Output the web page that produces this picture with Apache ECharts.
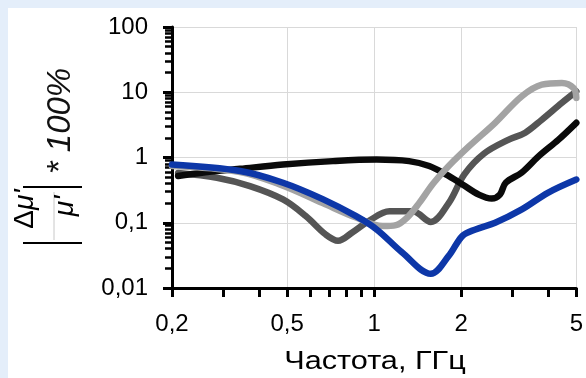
<!DOCTYPE html>
<html>
<head>
<meta charset="utf-8">
<script src="https://cdn.jsdelivr.net/npm/echarts@6/dist/echarts.min.js"></script>
<style>
  html, body { margin: 0; padding: 0; background: #e4eefa; }
  #panel { position: absolute; left: 8px; top: 8px; width: 578px; height: 370px; background: #ffffff; }
  #chart { position: absolute; left: 0; top: 0; width: 586px; height: 378px; }
</style>
</head>
<body>
<div id="panel"></div>
<div id="chart"></div>
<script>
// Frequency (GHz) and relative error (%) for each curve
const freqDark  = [0.21, 0.286, 0.372, 0.484, 0.58, 0.68, 0.75, 0.84, 0.96, 1.13, 1.36, 1.57, 1.81, 2.05, 2.4, 2.92, 3.33, 3.8, 4.46, 5.0];
const valDark   = [0.58, 0.49, 0.365, 0.228, 0.127, 0.066, 0.053, 0.071, 0.107, 0.15, 0.15, 0.103, 0.2, 0.55, 1.15, 1.88, 2.4, 3.8, 6.9, 10.3];

const freqBlack = [0.21, 0.25, 0.344, 0.484, 0.72, 1.02, 1.32, 1.55, 1.77, 2.02, 2.3, 2.55, 2.72, 2.85, 3.24, 3.7, 4.34, 5.0];
const valBlack  = [0.52, 0.58, 0.67, 0.78, 0.88, 0.93, 0.88, 0.74, 0.55, 0.386, 0.27, 0.235, 0.27, 0.41, 0.59, 1.04, 1.88, 3.4];

const freqLight = [0.2, 0.344, 0.484, 0.664, 0.866, 1.07, 1.19, 1.3, 1.43, 1.6, 1.81, 2.13, 2.62, 3.24, 3.8, 4.46, 4.9, 5.0];
const valLight  = [0.74, 0.6, 0.37, 0.2, 0.12, 0.089, 0.092, 0.12, 0.2, 0.4, 0.74, 1.49, 3.4, 8.7, 13.1, 13.9, 11.5, 8.2];

const freqBlue  = [0.2, 0.344, 0.484, 0.664, 0.866, 1.02, 1.25, 1.57, 1.81, 2.02, 2.24, 2.62, 3.24, 4.0, 5.0];
const valBlue   = [0.78, 0.62, 0.41, 0.23, 0.126, 0.079, 0.035, 0.0165, 0.031, 0.063, 0.079, 0.1, 0.16, 0.29, 0.46];

// Axis ticks, labels and grid positions
const xTicks   = [0.2, 0.3, 0.4, 0.5, 0.6, 0.7, 0.8, 0.9, 1, 2, 3, 4, 5];
const xLabels  = [0.2, 0.5, 1, 2, 5];
const xGrid    = [0.5, 1, 2, 5];
const yMinor   = [0.02, 0.03, 0.04, 0.05, 0.06, 0.07, 0.08, 0.09,
                  0.2, 0.3, 0.4, 0.5, 0.6, 0.7, 0.8, 0.9,
                  2, 3, 4, 5, 6, 7, 8, 9,
                  20, 30, 40, 50, 60, 70, 80, 90];
const xTitle = 'Частота, ГГц';

const FONT = "'Liberation Sans', Arial, sans-serif";
const zip = (xs, ys) => xs.map((x, i) => [x, ys[i]]);
const comma = v => String(parseFloat(Number(v).toPrecision(6))).replace('.', ',');

const chart = echarts.init(document.getElementById('chart'), null, { renderer: 'canvas' });

const lineSeries = (name, color, xs, ys) => ({
  name, type: 'line', xAxisIndex: 0, yAxisIndex: 0,
  data: zip(xs, ys), smooth: 0.35, showSymbol: false, symbol: 'none',
  lineStyle: { color, width: 6.5, cap: 'round', join: 'round' }
});

chart.setOption({
  animation: false,
  backgroundColor: 'transparent',
  grid: { left: 172, right: 8, top: 27, bottom: 90, containLabel: false },
  xAxis: [
    {
      type: 'log', logBase: 10, min: 0.2, max: 5, position: 'bottom',
      axisLine: { show: true, lineStyle: { color: '#000', width: 3 } },
      axisTick: { show: true, length: 9, lineStyle: { color: '#000', width: 3 }, customValues: xTicks },
      axisLabel: { customValues: xLabels, formatter: comma, fontSize: 24, color: '#000', fontFamily: FONT, margin: 24 },
      splitLine: { show: false }
    },
    {
      type: 'log', logBase: 10, min: 0.2, max: 5, position: 'bottom',
      axisLine: { show: false }, axisLabel: { show: false },
      axisTick: { show: false, customValues: xGrid },
      splitLine: { show: true, lineStyle: { color: '#d9d9d9', width: 1 } }
    }
  ],
  yAxis: [
    {
      type: 'log', logBase: 10, min: 0.01, max: 100, position: 'left',
      axisLine: { show: true, lineStyle: { color: '#000', width: 3 } },
      axisTick: { show: true, length: 9, lineStyle: { color: '#000', width: 3 } },
      axisLabel: { formatter: comma, fontSize: 24, color: '#000', fontFamily: FONT, margin: 24 },
      splitLine: { show: true, lineStyle: { color: '#d9d9d9', width: 1 } }
    },
    {
      type: 'log', logBase: 10, min: 0.01, max: 100, position: 'left',
      axisLine: { show: false }, axisLabel: { show: false }, splitLine: { show: false },
      axisTick: { show: true, length: 7, lineStyle: { color: '#000', width: 2.5 }, customValues: yMinor }
    }
  ],
  series: [
    lineSeries('dark', '#555555', freqDark, valDark),
    lineSeries('black', '#0a0a0a', freqBlack, valBlack),
    lineSeries('light', '#a3a3a3', freqLight, valLight),
    lineSeries('blue', '#0d37a8', freqBlue, valBlue)
  ],
  graphic: [
    // x-axis title, drawn slightly widened
    { type: 'text', x: 375, y: 362, scaleX: 1.18,
      style: { text: xTitle, fontSize: 26, fontFamily: FONT, fill: '#000', align: 'center', verticalAlign: 'middle' } },
    // |Δμ'/μ'| * 100%  (rotated axis title)
    { type: 'text', x: 61, y: 121, rotation: Math.PI / 2,
      style: { text: '* 100%', fontSize: 33, fontStyle: 'italic', fontFamily: FONT, fill: '#111', align: 'center', verticalAlign: 'middle' } },
    { type: 'line', shape: { x1: 23, y1: 187, x2: 82, y2: 187 }, style: { stroke: '#000', lineWidth: 2 } },
    { type: 'line', shape: { x1: 23, y1: 243, x2: 82, y2: 243 }, style: { stroke: '#000', lineWidth: 2 } },
    { type: 'line', shape: { x1: 54, y1: 192, x2: 54, y2: 240 }, style: { stroke: '#c8c8c8', lineWidth: 1 } },
    { type: 'text', x: 25, y: 209, rotation: Math.PI / 2,
      style: { text: '{d|Δ}{m|μ\'}', fontSize: 28, fontFamily: FONT, fill: '#000', align: 'center', verticalAlign: 'middle',
        rich: { d: { fontSize: 28, fontFamily: FONT }, m: { fontSize: 28, fontStyle: 'italic', fontFamily: FONT } } } },
    { type: 'text', x: 65, y: 206, rotation: Math.PI / 2,
      style: { text: 'μ\'', fontSize: 28, fontStyle: 'italic', fontFamily: FONT, fill: '#000', align: 'center', verticalAlign: 'middle' } }
  ]
});
</script>
</body>
</html>
